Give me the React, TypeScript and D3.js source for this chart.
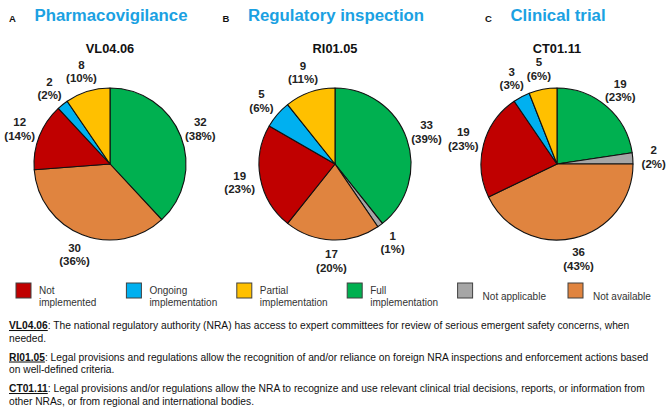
import React, { useRef, useLayoutEffect, useState } from "react";
import * as d3 from "d3";

const W = 669;
const H = 411;
const FONT = "'Liberation Sans', Arial, sans-serif";

// category order = clockwise order from 12 o'clock
const CATEGORIES = [
  "Full implementation",
  "Not applicable",
  "Not available",
  "Not implemented",
  "Ongoing implementation",
  "Partial implementation",
];

const COLORS: Record<string, string> = {
  "Not implemented": "#c00000",
  "Ongoing implementation": "#00b0f0",
  "Partial implementation": "#ffc000",
  "Full implementation": "#00b050",
  "Not applicable": "#a6a6a6",
  "Not available": "#e0843f",
};

const PANEL_LETTERS = ["A", "B", "C"];
const PANEL_TITLES = ["Pharmacovigilance", "Regulatory inspection", "Clinical trial"];
const INDICATORS = ["VL04.06", "RI01.05", "CT01.11"];

const VALUES_VL = [32, 0, 30, 12, 2, 8];
const PCT_VL = [38, 0, 36, 14, 2, 10];
const VALUES_RI = [33, 1, 17, 19, 5, 9];
const PCT_RI = [39, 1, 20, 23, 6, 11];
const VALUES_CT = [19, 2, 36, 19, 3, 5];
const PCT_CT = [23, 2, 43, 23, 3, 6];

const PANEL_VALUES = [VALUES_VL, VALUES_RI, VALUES_CT];
const PANEL_PCTS = [PCT_VL, PCT_RI, PCT_CT];

// legend order (left to right)
const LEGEND_ORDER = [
  "Not implemented",
  "Ongoing implementation",
  "Partial implementation",
  "Full implementation",
  "Not applicable",
  "Not available",
];
const LEGEND_LINES: Record<string, string[]> = {
  "Not implemented": ["Not", "implemented"],
  "Ongoing implementation": ["Ongoing", "implementation"],
  "Partial implementation": ["Partial", "implementation"],
  "Full implementation": ["Full", "implementation"],
  "Not applicable": ["Not applicable"],
  "Not available": ["Not available"],
};

const NOTES = [
  {
    id: "VL04.06",
    lines: [
      ": The national regulatory authority (NRA) has access to expert committees for review of serious emergent safety concerns, when",
      "needed.",
    ],
  },
  {
    id: "RI01.05",
    lines: [
      ": Legal provisions and regulations allow the recognition of and/or reliance on foreign NRA inspections and enforcement actions based",
      "on well-defined criteria.",
    ],
  },
  {
    id: "CT01.11",
    lines: [
      ": Legal provisions and/or regulations allow the NRA to recognize and use relevant clinical trial decisions, reports, or information from",
      "other NRAs, or from regional and international bodies.",
    ],
  },
];

const R = 76;
const LABEL_R = 97;

function Panel({ i, cx }: { i: number; cx: number }) {
  const titleRef = useRef<SVGTextElement>(null);
  const [titleW, setTitleW] = useState(PANEL_TITLES[i].length * 9);
  useLayoutEffect(() => {
    if (titleRef.current) setTitleW(titleRef.current.getComputedTextLength());
  }, [i]);

  const values = PANEL_VALUES[i];
  const pcts = PANEL_PCTS[i];
  const cy = 164;
  const data = CATEGORIES.map((c, k) => ({ cat: c, value: values[k], pct: pcts[k] }));
  const pie = d3
    .pie<any>()
    .sort(null)
    .value((d) => d.value)
    .startAngle(0)
    .endAngle(2 * Math.PI);
  const arcs = pie(data).filter((a) => a.data.value > 0);
  const arc = d3.arc<any>().innerRadius(0).outerRadius(R);
  const labelArc = d3.arc<any>().innerRadius(LABEL_R).outerRadius(LABEL_R);

  return (
    <g>
      {/* panel heading, centred on the pie */}
      <text
        ref={titleRef}
        x={cx + 1}
        y={21}
        textAnchor="middle"
        fontSize={16.8}
        fontWeight="bold"
        fill="#1ba1e2"
      >
        {PANEL_TITLES[i]}
      </text>
      <text
        x={cx + 1 - titleW / 2 - 22}
        y={21.5}
        textAnchor="middle"
        fontSize={9.5}
        fontWeight="bold"
        fill="#111"
      >
        {PANEL_LETTERS[i]}
      </text>
      <text x={cx} y={53} textAnchor="middle" fontSize={12.8} fontWeight="bold" fill="#111">
        {INDICATORS[i]}
      </text>

      <g transform={`translate(${cx},${cy})`}>
        {arcs.map((a) => (
          <path
            key={a.data.cat}
            d={arc(a) as string}
            fill={COLORS[a.data.cat]}
            stroke="#111"
            strokeWidth={1.1}
            strokeLinejoin="round"
          />
        ))}
        {arcs.map((a) => {
          const [lx, ly] = labelArc.centroid(a);
          return (
            <text
              key={"l" + a.data.cat}
              x={lx}
              y={ly}
              textAnchor="middle"
              fontSize={11.5}
              fontWeight="bold"
              fill="#222"
            >
              <tspan x={lx} dy={-2.5}>
                {a.data.value}
              </tspan>
              <tspan x={lx} dy={13.5}>
                ({a.data.pct}%)
              </tspan>
            </text>
          );
        })}
      </g>
    </g>
  );
}

export default function App() {
  const centers = [110, 335, 557];
  const legendX = d3.scaleLinear().domain([0, 5]).range([16, 568]);

  return (
    <svg
      width={W}
      height={H}
      style={{ position: "absolute", left: 0, top: 0, fontFamily: FONT, background: "#fff" }}
    >
      <rect width={W} height={H} fill="#fff" />
      {PANEL_TITLES.map((_, i) => (
        <Panel key={i} i={i} cx={centers[i]} />
      ))}

      {/* legend */}
      {LEGEND_ORDER.map((c, i) => {
        const x = legendX(i);
        const lines = LEGEND_LINES[c];
        return (
          <g key={c}>
            <rect
              x={x}
              y={283}
              width={15}
              height={15}
              fill={COLORS[c]}
              stroke="#404040"
              strokeWidth={1}
            />
            {lines.length === 1 ? (
              <text x={x + 25} y={299.5} fontSize={10} fill="#333">
                {lines[0]}
              </text>
            ) : (
              <text x={x + 23} y={293.5} fontSize={10} fill="#333">
                <tspan x={x + 23}>{lines[0]}</tspan>
                <tspan x={x + 23} dy={12}>
                  {lines[1]}
                </tspan>
              </text>
            )}
          </g>
        );
      })}

      {/* footnotes */}
      {NOTES.map((n, i) => {
        const y0 = 329 + i * 31.5;
        return (
          <g key={n.id}>
            <text x={9} y={y0} fontSize={10.25} fill="#111">
              <tspan fontWeight="bold" textDecoration="underline">
                {n.id}
              </tspan>
              <tspan>{n.lines[0]}</tspan>
            </text>
            <text x={9} y={y0 + 12.5} fontSize={10.25} fill="#111">
              {n.lines[1]}
            </text>
          </g>
        );
      })}
    </svg>
  );
}
